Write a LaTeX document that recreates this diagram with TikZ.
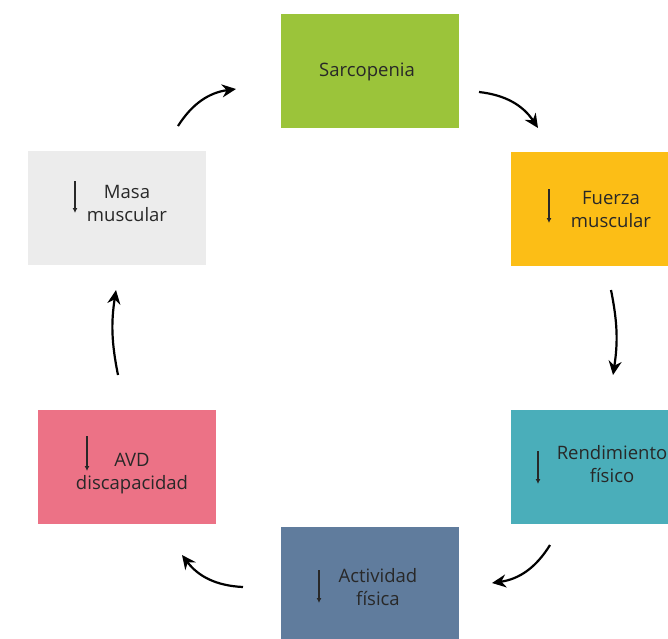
\documentclass[tikz,border=0pt]{standalone}
\usepackage{fontspec}
\setmainfont{Open Sans}
\usetikzlibrary{arrows.meta}
\definecolor{cSarc}{RGB}{155,196,58}
\definecolor{cFuer}{RGB}{252,190,22}
\definecolor{cRend}{RGB}{74,174,186}
\definecolor{cAct}{RGB}{96,124,157}
\definecolor{cAvd}{RGB}{236,114,134}
\definecolor{cMasa}{RGB}{236,236,236}
\definecolor{cText}{RGB}{40,40,40}
\tikzset{
  box/.style={rectangle, minimum width=178pt, minimum height=114pt, inner sep=0pt, draw=none},
  txt/.style={align=center, text=cText, inner sep=0pt, font=\fontsize{18.5}{23}\selectfont},
  cyc/.style={line width=2.2pt, -{Stealth[length=14pt,width=13pt]}, bend left=#1},
  dn/.style={line width=1.1pt, draw=cText, -{Latex[length=5pt,width=5pt]}}
}
\begin{document}
\begin{tikzpicture}[x=1pt,y=-1pt]
    \useasboundingbox (0,0) rectangle (668,638);
    \clip (0,0) rectangle (668,638);

    % Cajas
    \node[box, fill=cSarc] (sarc) at (370,71) {};
    \node[box, fill=cFuer] (fuer) at (600,208.5) {};
    \node[box, fill=cRend] (rend) at (600,467) {};
    \node[box, fill=cAct]  (act)  at (370,584) {};
    \node[box, fill=cAvd]  (avd)  at (127,467) {};
    \node[box, fill=cMasa] (masa) at (117,208) {};

    % Textos
    \node[txt] (sarc-t) at (367,72) {Sarcopenia};
    \node[txt] (fuer-t) at (611,209) {Fuerza\\muscular};
    \node[txt] (rend-t) at (612,464) {Rendimiento\\físico};
    \node[txt] (act-t)  at (378,587) {Actividad\\física};
    \node[txt] (avd-t)  at (132,474) {AVD\\discapacidad};
    \node[txt] (masa-t) at (127,203) {Masa\\muscular};

    % Flechas hacia abajo
    \draw[dn] (75,181) -- (75,213);
    \draw[dn] (549,189) -- (549,223);
    \draw[dn] (538,451) -- (538,484);
    \draw[dn] (319,570) -- (319,603);
    \draw[dn] (87,436) -- (87,471);

    % Ciclo
    \coordinate (a1) at (178,126); \coordinate (b1) at (236,89);
    \coordinate (a2) at (479,92);  \coordinate (b2) at (538,128);
    \coordinate (a3) at (611,290); \coordinate (b3) at (613,375);
    \coordinate (a4) at (550,545); \coordinate (b4) at (492,583);
    \coordinate (a5) at (243,587); \coordinate (b5) at (182,555);
    \coordinate (a6) at (118,375); \coordinate (b6) at (116,290);
    \draw[cyc=25] (a1) to (b1);
    \draw[cyc=25] (a2) to (b2);
    \draw[cyc=10] (a3) to (b3);
    \draw[cyc=25] (a4) to (b4);
    \draw[cyc=25] (a5) to (b5);
    \draw[cyc=10] (a6) to (b6);
\end{tikzpicture}
\end{document}
